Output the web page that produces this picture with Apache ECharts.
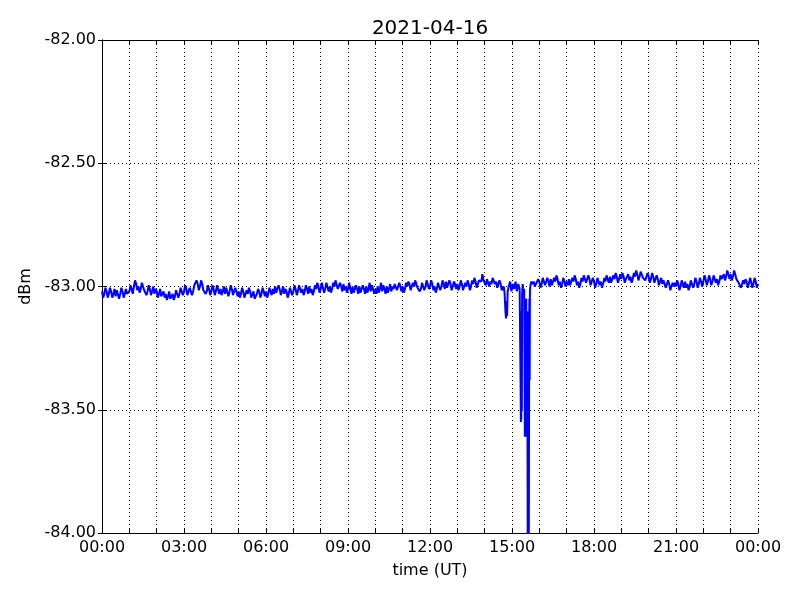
<!DOCTYPE html>
<html>
<head>
<meta charset="utf-8">
<script src="https://cdn.jsdelivr.net/npm/echarts@6/dist/echarts.min.js"></script>
<style>html,body{margin:0;padding:0;background:#fff}#c{width:800px;height:600px}</style>
</head>
<body>
<div id="c"></div>
<script>
// Title and axis labels
const chartTitle = '2021-04-16';
const xName = 'time (UT)';
const yName = 'dBm';
const xTickLabels = ['00:00','03:00','06:00','09:00','12:00','15:00','18:00','21:00','00:00'];
const yMin = -84, yMax = -82, yStep = 0.5;

// Samples on the 5-minute marks, one row per hour (dBm)
const hourly = [
  [-83.02,-83.03,-83.02,-83.03,-83.02,-83.03,-83.04,-83.02,-83.03,-83.02,-83.03,-83.03],
  [-83.02,-83.01,-83.00,-82.99,-83.00,-83.01,-82.99,-83.01,-83.02,-83.01,-83.02,-83.03],
  [-83.02,-83.03,-83.04,-83.02,-83.03,-83.04,-83.05,-83.03,-83.04,-83.02,-83.03,-83.01],
  [-83.02,-83.01,-83.03,-83.01,-83.02,-83.00,-82.99,-83.00,-82.99,-83.01,-83.02,-83.01],
  [-83.02,-83.01,-83.02,-83.00,-83.01,-83.02,-83.03,-83.01,-83.02,-83.01,-83.03,-83.02],
  [-83.02,-83.03,-83.02,-83.04,-83.03,-83.02,-83.04,-83.05,-83.03,-83.02,-83.03,-83.02],
  [-83.02,-83.03,-83.02,-83.01,-83.00,-83.02,-83.01,-83.02,-83.03,-83.02,-83.03,-83.02],
  [-83.02,-83.01,-83.02,-83.00,-83.01,-83.02,-83.01,-83.00,-83.01,-83.02,-83.01,-83.00],
  [-83.01,-82.99,-83.01,-82.99,-83.00,-83.01,-83.00,-82.98,-83.01,-83.00,-82.99,-83.00],
  [-83.01,-83.01,-83.00,-83.02,-83.01,-83.00,-83.02,-83.01,-83.00,-83.01,-83.02,-83.01],
  [-83.01,-83.00,-83.01,-83.02,-83.01,-83.00,-83.01,-83.02,-83.01,-82.99,-83.01,-83.00],
  [-83.00,-83.01,-83.00,-82.99,-83.01,-83.00,-82.98,-83.00,-83.01,-82.99,-83.00,-82.99],
  [-83.00,-82.99,-83.00,-83.01,-82.99,-83.00,-82.99,-82.98,-83.00,-82.99,-83.00,-82.99],
  [-82.99,-83.00,-82.99,-83.01,-83.00,-82.99,-83.00,-82.99,-82.98,-83.00,-82.98,-82.95],
  [-82.98,-82.97,-83.00,-82.99,-82.97,-82.98,-83.00,-82.99,-83.01,-83.00,-82.99,-83.00],
  [-83.00,-83.00,-83.00,-83.00,-83.00,-83.00,-83.00,-83.00,-83.00,-82.99,-83.00,-82.98],
  [-82.98,-82.99,-82.97,-82.99,-82.98,-82.97,-82.99,-82.98,-82.97,-82.98,-82.99,-82.98],
  [-82.98,-82.97,-82.99,-82.98,-82.97,-82.98,-82.99,-82.98,-82.96,-82.98,-82.97,-82.99],
  [-82.98,-82.99,-82.97,-82.98,-82.99,-82.98,-82.97,-82.96,-82.98,-82.97,-82.96,-82.97],
  [-82.97,-82.96,-82.97,-82.95,-82.96,-82.97,-82.96,-82.95,-82.96,-82.94,-82.96,-82.97],
  [-82.96,-82.97,-82.96,-82.98,-82.97,-82.98,-82.99,-82.98,-83.00,-82.99,-83.01,-83.00],
  [-83.00,-82.99,-83.00,-82.99,-82.98,-82.99,-83.00,-82.98,-82.99,-82.98,-82.99,-82.98],
  [-82.98,-82.97,-82.98,-82.97,-82.98,-82.96,-82.97,-82.98,-82.97,-82.95,-82.96,-82.95],
  [-82.95,-82.96,-82.95,-82.97,-82.99,-83.00,-82.99,-82.98,-82.99,-82.98,-82.99,-82.98]
];
// Samples half-way between the 5-minute marks (2.5 min later), one row per hour (dBm)
const hourlyMid = [
  [-83.045,-83.005,-83.045,-83.005,-83.045,-83.01,-83.015,-83.05,-83.005,-83.045,-83.01,-83.035],
  [-82.995,-83.03,-82.975,-83.015,-83.025,-82.985,-83.015,-83.035,-82.995,-83.035,-83.00,-83.01],
  [-83.045,-83.01,-83.04,-83.045,-83.055,-83.02,-83.05,-83.055,-83.015,-83.045,-83.005,-83.035],
  [-82.995,-83.035,-83.005,-83.035,-82.995,-82.975,-83.015,-82.975,-83.015,-83.03,-82.995,-83.035],
  [-82.995,-83.035,-82.995,-83.03,-83.035,-83.00,-83.005,-83.04,-82.995,-83.035,-83.005,-83.04],
  [-83.045,-83.005,-83.045,-83.015,-83.005,-83.045,-83.02,-83.055,-83.01,-83.045,-83.005,-83.04],
  [-83.045,-83.005,-83.035,-83.03,-83.025,-82.995,-83.035,-83.00,-83.01,-83.045,-83.005,-83.035],
  [-82.995,-83.035,-82.995,-83.025,-83.035,-82.995,-83.03,-83.025,-83.035,-82.995,-82.985,-83.025],
  [-82.985,-83.025,-82.985,-83.02,-83.025,-82.985,-82.975,-83.01,-82.985,-83.02,-83.015,-83.025],
  [-82.985,-83.03,-83.025,-82.995,-83.03,-83.025,-82.995,-83.03,-83.025,-82.985,-82.995,-83.03],
  [-83.03,-83.025,-82.985,-82.995,-83.03,-83.025,-82.99,-83.00,-82.99,-83.015,-82.985,-83.02],
  [-83.025,-82.985,-82.98,-83.015,-82.985,-82.975,-83.005,-83.02,-82.985,-83.015,-82.975,-83.01],
  [-82.975,-83.015,-83.025,-82.985,-83.015,-82.975,-83.01,-83.005,-82.975,-83.015,-82.98,-83.01],
  [-83.015,-82.975,-83.015,-82.985,-82.975,-83.015,-82.975,-82.965,-83.005,-82.975,-82.98,-82.975],
  [-82.995,-82.965,-82.98,-82.965,-82.99,-83.005,-82.975,-83.015,-82.99,-83.0,-83.0,-83.0],
  [-83.0,-83.0,-83.0,-83.0,-83.0,-83.0,-83.0,-83.0,-83.0,-82.98,-83.005,-82.97],
  [-83.005,-82.965,-82.995,-82.965,-83.00,-82.995,-82.965,-82.955,-82.995,-83.005,-82.965,-83.00],
  [-82.995,-82.995,-82.965,-82.955,-82.995,-83.005,-82.965,-82.955,-82.985,-82.955,-82.995,-82.965],
  [-83.005,-82.965,-82.995,-83.005,-82.965,-82.955,-82.985,-82.985,-82.955,-82.945,-82.985,-82.95],
  [-82.945,-82.985,-82.97,-82.975,-82.985,-82.945,-82.935,-82.975,-82.94,-82.965,-82.975,-82.945],
  [-82.985,-82.945,-82.985,-82.955,-82.995,-82.965,-82.975,-83.005,-82.975,-83.015,-82.985,-82.985],
  [-82.975,-83.015,-82.975,-83.005,-83.005,-83.015,-82.975,-83.005,-82.965,-83.005,-82.965,-83.00],
  [-82.955,-82.995,-82.955,-82.995,-82.955,-82.985,-82.995,-82.955,-82.97,-82.975,-82.935,-82.97],
  [-82.975,-82.935,-82.97,-82.985,-83.005,-82.975,-82.97,-83.005,-82.965,-83.005,-82.965,-83.005]
];
const endValue = -82.99;

// Dense samples through the 14:40-15:45 drop-outs (hours, dBm)
const dropTimes = [14.70,14.73,14.76,14.78,14.80,14.82,14.84,14.88,14.93,14.98,15.03,15.08,15.13,15.18,15.23,15.28,
  15.300,15.315,15.325,15.330,15.340,15.350,15.360,15.370,15.390,15.420,15.445,15.460,15.470,15.480,15.490,15.500,
  15.510,15.520,15.530,15.540,15.550,15.560,15.575,15.585,15.595,15.605,15.615,15.625,15.635,15.645,15.655,15.670,15.700];
const dropValues = [-83.00,-83.03,-83.10,-83.13,-83.06,-83.12,-83.02,-83.00,-82.98,-83.02,-82.99,-83.01,-82.98,-83.02,-82.99,-83.01,
  -83.01,-83.40,-83.55,-83.10,-83.54,-83.20,-83.50,-83.03,-82.99,-83.02,-83.01,-83.30,-83.61,-83.10,-83.60,-83.20,
  -83.58,-83.05,-83.61,-83.25,-83.60,-83.10,-84.10,-83.30,-84.10,-83.35,-84.10,-83.39,-83.05,-83.38,-83.02,-83.00,-82.98];

const points = [];
const keep = t => !(t > 14.68 && t < 15.72);
hourly.forEach((row, h) => row.forEach((v, i) => {
  const t = h + i * 5 / 60;
  if (keep(t)) points.push([t, v]);
}));
hourlyMid.forEach((row, h) => row.forEach((v, i) => {
  const t = h + (i * 5 + 2.5) / 60;
  if (keep(t)) points.push([t, v]);
}));
dropTimes.forEach((t, i) => points.push([t, dropValues[i]]));
points.push([24, endValue]);
points.sort((a, b) => a[0] - b[0]);

const font = 'DejaVu Sans';
const dotted = { color: '#000', width: 1, type: [1, 3] };
const chart = echarts.init(document.getElementById('c'), null, { renderer: 'canvas' });
chart.setOption({
  animation: false,
  backgroundColor: '#fff',
  title: {
    text: chartTitle, left: 425, top: 14, textAlign: 'center',
    textStyle: { fontFamily: font, fontSize: 20, fontWeight: 'normal', color: '#000' }
  },
  grid: { left: 102, right: 42, top: 40, bottom: 67, containLabel: false },
  xAxis: [{
    type: 'value', min: 0, max: 24, interval: 1, position: 'bottom',
    name: xName, nameLocation: 'middle', nameGap: 30,
    nameTextStyle: { fontFamily: font, fontSize: 16, color: '#000' },
    axisLine: { show: true, lineStyle: { color: '#000', width: 1 } },
    axisTick: { show: true, inside: true, length: 4, lineStyle: { color: '#000' } },
    axisLabel: {
      fontFamily: font, fontSize: 16, color: '#000', margin: 7, showMinLabel: true, showMaxLabel: true,
      formatter: v => (Math.round(v) % 3 === 0 ? xTickLabels[Math.round(v) / 3] : '')
    },
    splitLine: { show: true, lineStyle: dotted }
  }, {
    type: 'value', min: 0, max: 24, interval: 1, position: 'top',
    axisLine: { show: true, lineStyle: { color: '#000', width: 1 } },
    axisTick: { show: true, inside: true, length: 4, lineStyle: { color: '#000' } },
    axisLabel: { show: false }, splitLine: { show: false }
  }],
  yAxis: [{
    type: 'value', min: yMin, max: yMax, interval: yStep, position: 'left',
    name: yName, nameLocation: 'middle', nameGap: 67, nameRotate: 90,
    nameTextStyle: { fontFamily: font, fontSize: 16, color: '#000' },
    axisLine: { show: true, lineStyle: { color: '#000', width: 1 } },
    axisTick: { show: true, inside: true, length: 4, lineStyle: { color: '#000' } },
    axisLabel: { fontFamily: font, fontSize: 16, color: '#000', margin: 6, formatter: v => v.toFixed(2) },
    splitLine: { show: true, lineStyle: dotted }
  }, {
    type: 'value', min: yMin, max: yMax, interval: yStep, position: 'right',
    axisLine: { show: true, lineStyle: { color: '#000', width: 1 } },
    axisTick: { show: true, inside: true, length: 4, lineStyle: { color: '#000' } },
    axisLabel: { show: false }, splitLine: { show: false }
  }],
  series: [{
    type: 'line', xAxisIndex: 0, yAxisIndex: 0, data: points,
    showSymbol: false, symbol: 'none', clip: true,
    lineStyle: { color: '#0000ff', width: 2 }
  }]
});
</script>
</body>
</html>
